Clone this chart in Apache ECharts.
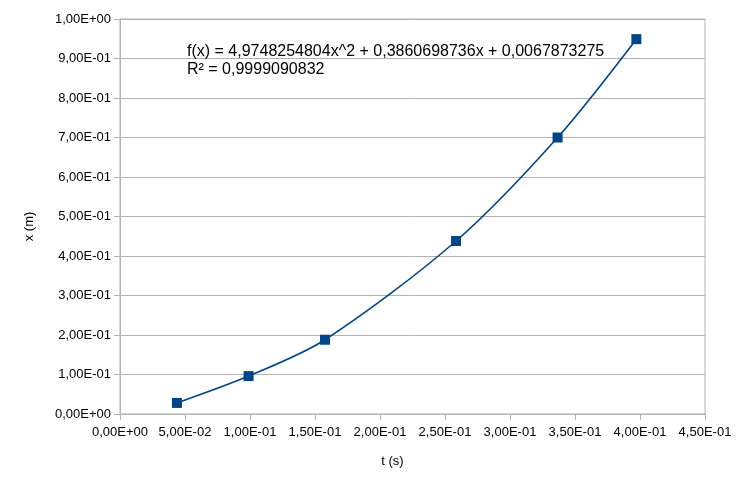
<!DOCTYPE html>
<html>
<head>
<meta charset="utf-8">
<script src="https://cdn.jsdelivr.net/npm/echarts@6/dist/echarts.min.js"></script>
<style>
  html, body { margin: 0; padding: 0; background: #ffffff; }
  #chart { width: 744px; height: 485px; }
</style>
</head>
<body>
<div id="chart"></div>
<script>
const tValues = [0.0438, 0.0989, 0.1577, 0.2585, 0.3366, 0.3972]
const xValues = [0.028, 0.096, 0.188, 0.438, 0.700, 0.949]
const fitLabel = 'f(x) = 4,9748254804x^2 + 0,3860698736x + 0,0067873275'
const r2Label = 'R² = 0,9999090832'

const points = tValues.map((t, i) => [t, xValues[i]])

// 1.5 -> "1,50E+00" (LibreOffice style)
function sci (v) {
  if (Math.abs(v) < 1e-12) return '0,00E+00'
  const parts = v.toExponential(2).split('e')
  const exp = parseInt(parts[1], 10)
  const sign = exp < 0 ? '-' : '+'
  const e = String(Math.abs(exp)).padStart(2, '0')
  return parts[0].replace('.', ',') + 'E' + sign + e
}

const axisColor = '#b3b3b3'
const textFont = { color: '#000000', fontFamily: 'Liberation Sans', fontSize: 13 }

const myChart = echarts.init(document.getElementById('chart'))
const option = {
  animation: false,
  backgroundColor: '#ffffff',
  grid: {
    left: 120,
    right: 39,
    top: 19,
    bottom: 71,
    show: true,
    borderColor: axisColor,
    borderWidth: 1
  },
  xAxis: {
    type: 'value',
    min: 0,
    max: 0.45,
    interval: 0.05,
    name: 't (s)',
    nameLocation: 'middle',
    nameGap: 41,
    nameTextStyle: Object.assign({ padding: [0, 40, 0, 0] }, textFont),
    axisLine: { show: true, lineStyle: { color: axisColor } },
    axisTick: { show: true, length: 6, lineStyle: { color: axisColor } },
    axisLabel: Object.assign({ margin: 12, formatter: sci }, textFont),
    splitLine: { show: false }
  },
  yAxis: {
    type: 'value',
    min: 0,
    max: 1,
    interval: 0.1,
    name: 'x (m)',
    nameLocation: 'middle',
    nameGap: 84,
    nameTextStyle: Object.assign({ padding: [0, 20, 0, 0] }, textFont),
    axisLine: { show: true, lineStyle: { color: axisColor } },
    axisTick: { show: true, length: 6, lineStyle: { color: axisColor } },
    axisLabel: Object.assign({ margin: 9, formatter: sci }, textFont),
    splitLine: { show: true, lineStyle: { color: axisColor } }
  },
  graphic: [
    {
      type: 'text',
      left: 187,
      top: 43,
      z: 10,
      style: {
        text: fitLabel + '\n' + r2Label,
        font: '16px Liberation Sans',
        lineHeight: 18,
        fill: '#000000'
      }
    }
  ],
  series: [
    {
      name: 'trend',
      type: 'line',
      data: points,
      smooth: 0.3,
      symbol: 'none',
      lineStyle: { color: '#004586', width: 1.6 },
      z: 2
    },
    {
      name: 'x',
      type: 'scatter',
      data: points,
      symbol: 'rect',
      symbolSize: 10,
      itemStyle: { color: '#004586', opacity: 1 },
      z: 3
    }
  ]
}
myChart.setOption(option)
</script>
</body>
</html>
